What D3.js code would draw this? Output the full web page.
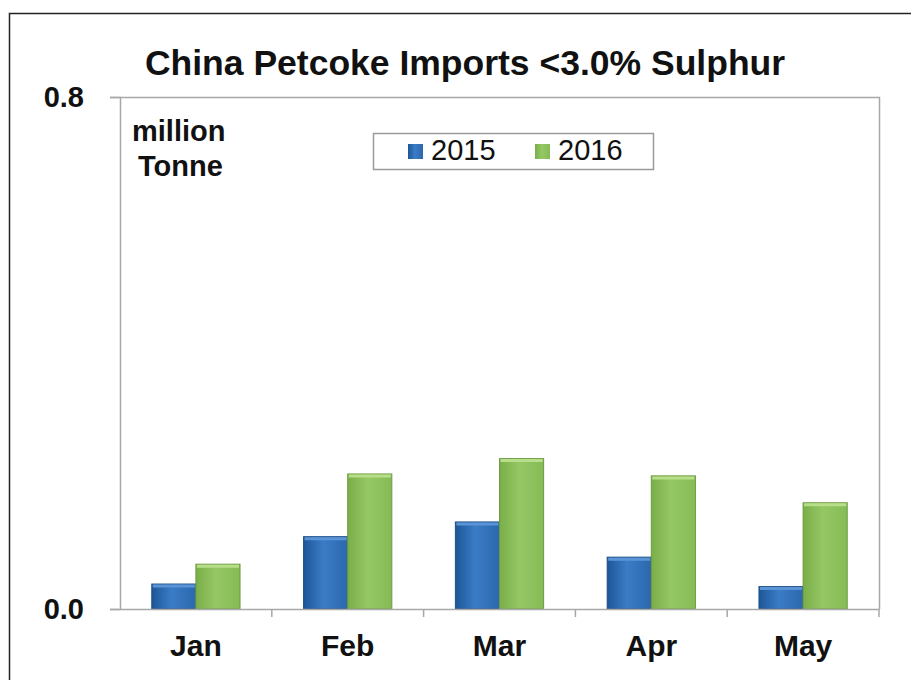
<!DOCTYPE html>
<html>
<head>
<meta charset="utf-8">
<script src="https://cdn.jsdelivr.net/npm/d3@7"></script>
<style>
  html, body { margin: 0; padding: 0; background: #fff; }
  svg { display: block; font-family: "Liberation Sans", Arial, sans-serif; }
</style>
</head>
<body>
<svg id="chart" width="911" height="680"></svg>
<script>
// Monthly imports, million tonnes
const months = ["Jan", "Feb", "Mar", "Apr", "May"];
const years = ["2015", "2016"];
const values2015 = [0.039, 0.113, 0.136, 0.081, 0.035];
const values2016 = [0.070, 0.211, 0.235, 0.208, 0.166];
const yTicks = [0.0, 0.8];

const rows = months.map((m, i) => ({ month: m, "2015": values2015[i], "2016": values2016[i] }));

const svg = d3.select("#chart");
const W = 911, H = 680;
const plot = { left: 120, right: 879, top: 97, bottom: 609 };

// Outer frame
svg.append("path")
  .attr("d", `M9.5,${H + 2} V13.5 H${W + 2}`)
  .attr("fill", "none").attr("stroke", "#222").attr("stroke-width", 1.5);

// Gradients for the bar fills
const defs = svg.append("defs");
const grads = {
  "2015": ["#1d5698", "#3a7cc6", "#2b68ad"],
  "2016": ["#7aae48", "#95c865", "#85bb55"]
};
years.forEach(y => {
  const g = defs.append("linearGradient").attr("id", "g" + y)
    .attr("x1", "0").attr("x2", "1").attr("y1", "0").attr("y2", "0");
  g.append("stop").attr("offset", "0%").attr("stop-color", grads[y][0]);
  g.append("stop").attr("offset", "45%").attr("stop-color", grads[y][1]);
  g.append("stop").attr("offset", "100%").attr("stop-color", grads[y][2]);
});

const x0 = d3.scaleBand().domain(months).range([plot.left, plot.right]).paddingInner(0).paddingOuter(0);
const x1 = d3.scaleBand().domain(years).range([0, x0.bandwidth()]).paddingInner(0).paddingOuter(0.72);
const y = d3.scaleLinear().domain([0, 0.8]).range([plot.bottom, plot.top]);

// Plot area box (top and right)
svg.append("path")
  .attr("d", `M${plot.left},${plot.top + 0.5} H${plot.right + 0.5} V${plot.bottom}`)
  .attr("fill", "none").attr("stroke", "#a8a8a8").attr("stroke-width", 1.5);

// Y axis
const yAxis = svg.append("g").attr("transform", `translate(${plot.left},0)`)
  .call(d3.axisLeft(y).tickValues(yTicks).tickFormat(d3.format(".1f")).tickSize(10).tickPadding(26));
yAxis.select(".domain").attr("stroke", "#a8a8a8").attr("stroke-width", 1.5);
yAxis.selectAll(".tick line").attr("stroke", "#a8a8a8").attr("stroke-width", 1.5);
yAxis.selectAll(".tick text")
  .attr("font-size", 29).attr("font-weight", "bold").attr("fill", "#111")
  .attr("font-family", "Liberation Sans, Arial, sans-serif")
  .attr("dy", "0.32em");

// Bars
const groups = svg.append("g").selectAll("g").data(rows).join("g")
  .attr("transform", d => `translate(${x0(d.month)},0)`);
groups.selectAll("rect").data(d => years.map(k => ({ key: k, value: d[k] }))).join("rect")
  .attr("x", d => x1(d.key))
  .attr("y", d => y(d.value))
  .attr("width", x1.bandwidth())
  .attr("height", d => y(0) - y(d.value))
  .attr("fill", d => `url(#g${d.key})`)
  .attr("stroke", d => d.key === "2015" ? "#1f4f86" : "#6e9a42")
  .attr("stroke-width", 1);
// top highlight on each bar
groups.selectAll("line.hl").data(d => years.map(k => ({ key: k, value: d[k] }))).join("line")
  .attr("class", "hl")
  .attr("x1", d => x1(d.key) + 1).attr("x2", d => x1(d.key) + x1.bandwidth() - 1)
  .attr("y1", d => y(d.value) + 2).attr("y2", d => y(d.value) + 2)
  .attr("stroke", d => d.key === "2015" ? "#5a94d6" : "#b7df8a").attr("stroke-width", 3);

// X axis
const xAxis = svg.append("g").attr("transform", `translate(0,${plot.bottom})`)
  .call(d3.axisBottom(x0).tickSize(0).tickPadding(26));
xAxis.select(".domain").attr("stroke", "#a8a8a8").attr("stroke-width", 1.5);
xAxis.selectAll(".tick text")
  .attr("font-size", 30).attr("font-weight", "bold").attr("fill", "#111")
  .attr("font-family", "Liberation Sans, Arial, sans-serif");
// category separators
svg.append("g").selectAll("line").data(months.slice(1).concat(["end"])).join("line")
  .attr("x1", d => d === "end" ? plot.right : x0(d))
  .attr("x2", d => d === "end" ? plot.right : x0(d))
  .attr("y1", plot.bottom).attr("y2", plot.bottom + 8)
  .attr("stroke", "#a8a8a8").attr("stroke-width", 1.5);

// Title
svg.append("text").attr("x", 465).attr("y", 75).attr("text-anchor", "middle")
  .attr("font-size", 35.5).attr("font-weight", "bold").attr("fill", "#111")
  .text("China Petcoke Imports <3.0% Sulphur");

// Unit label
const unit = svg.append("text").attr("y", 141)
  .attr("font-size", 29).attr("font-weight", "bold").attr("fill", "#111");
unit.append("tspan").attr("x", 132).text("million");
unit.append("tspan").attr("x", 138).attr("dy", 35).text("Tonne");

// Legend
const legend = svg.append("g");
legend.append("rect").attr("x", 373.5).attr("y", 133.5).attr("width", 280).attr("height", 36)
  .attr("fill", "#fff").attr("stroke", "#9a9a9a").attr("stroke-width", 1.5);
const legendX = { "2015": 408, "2016": 535 };
years.forEach(k => {
  legend.append("rect").attr("x", legendX[k]).attr("y", 144).attr("width", 15).attr("height", 15)
    .attr("fill", `url(#g${k})`);
  legend.append("text").attr("x", legendX[k] + 23).attr("y", 160)
    .attr("font-size", 29).attr("fill", "#111").text(k);
});
</script>
</body>
</html>
